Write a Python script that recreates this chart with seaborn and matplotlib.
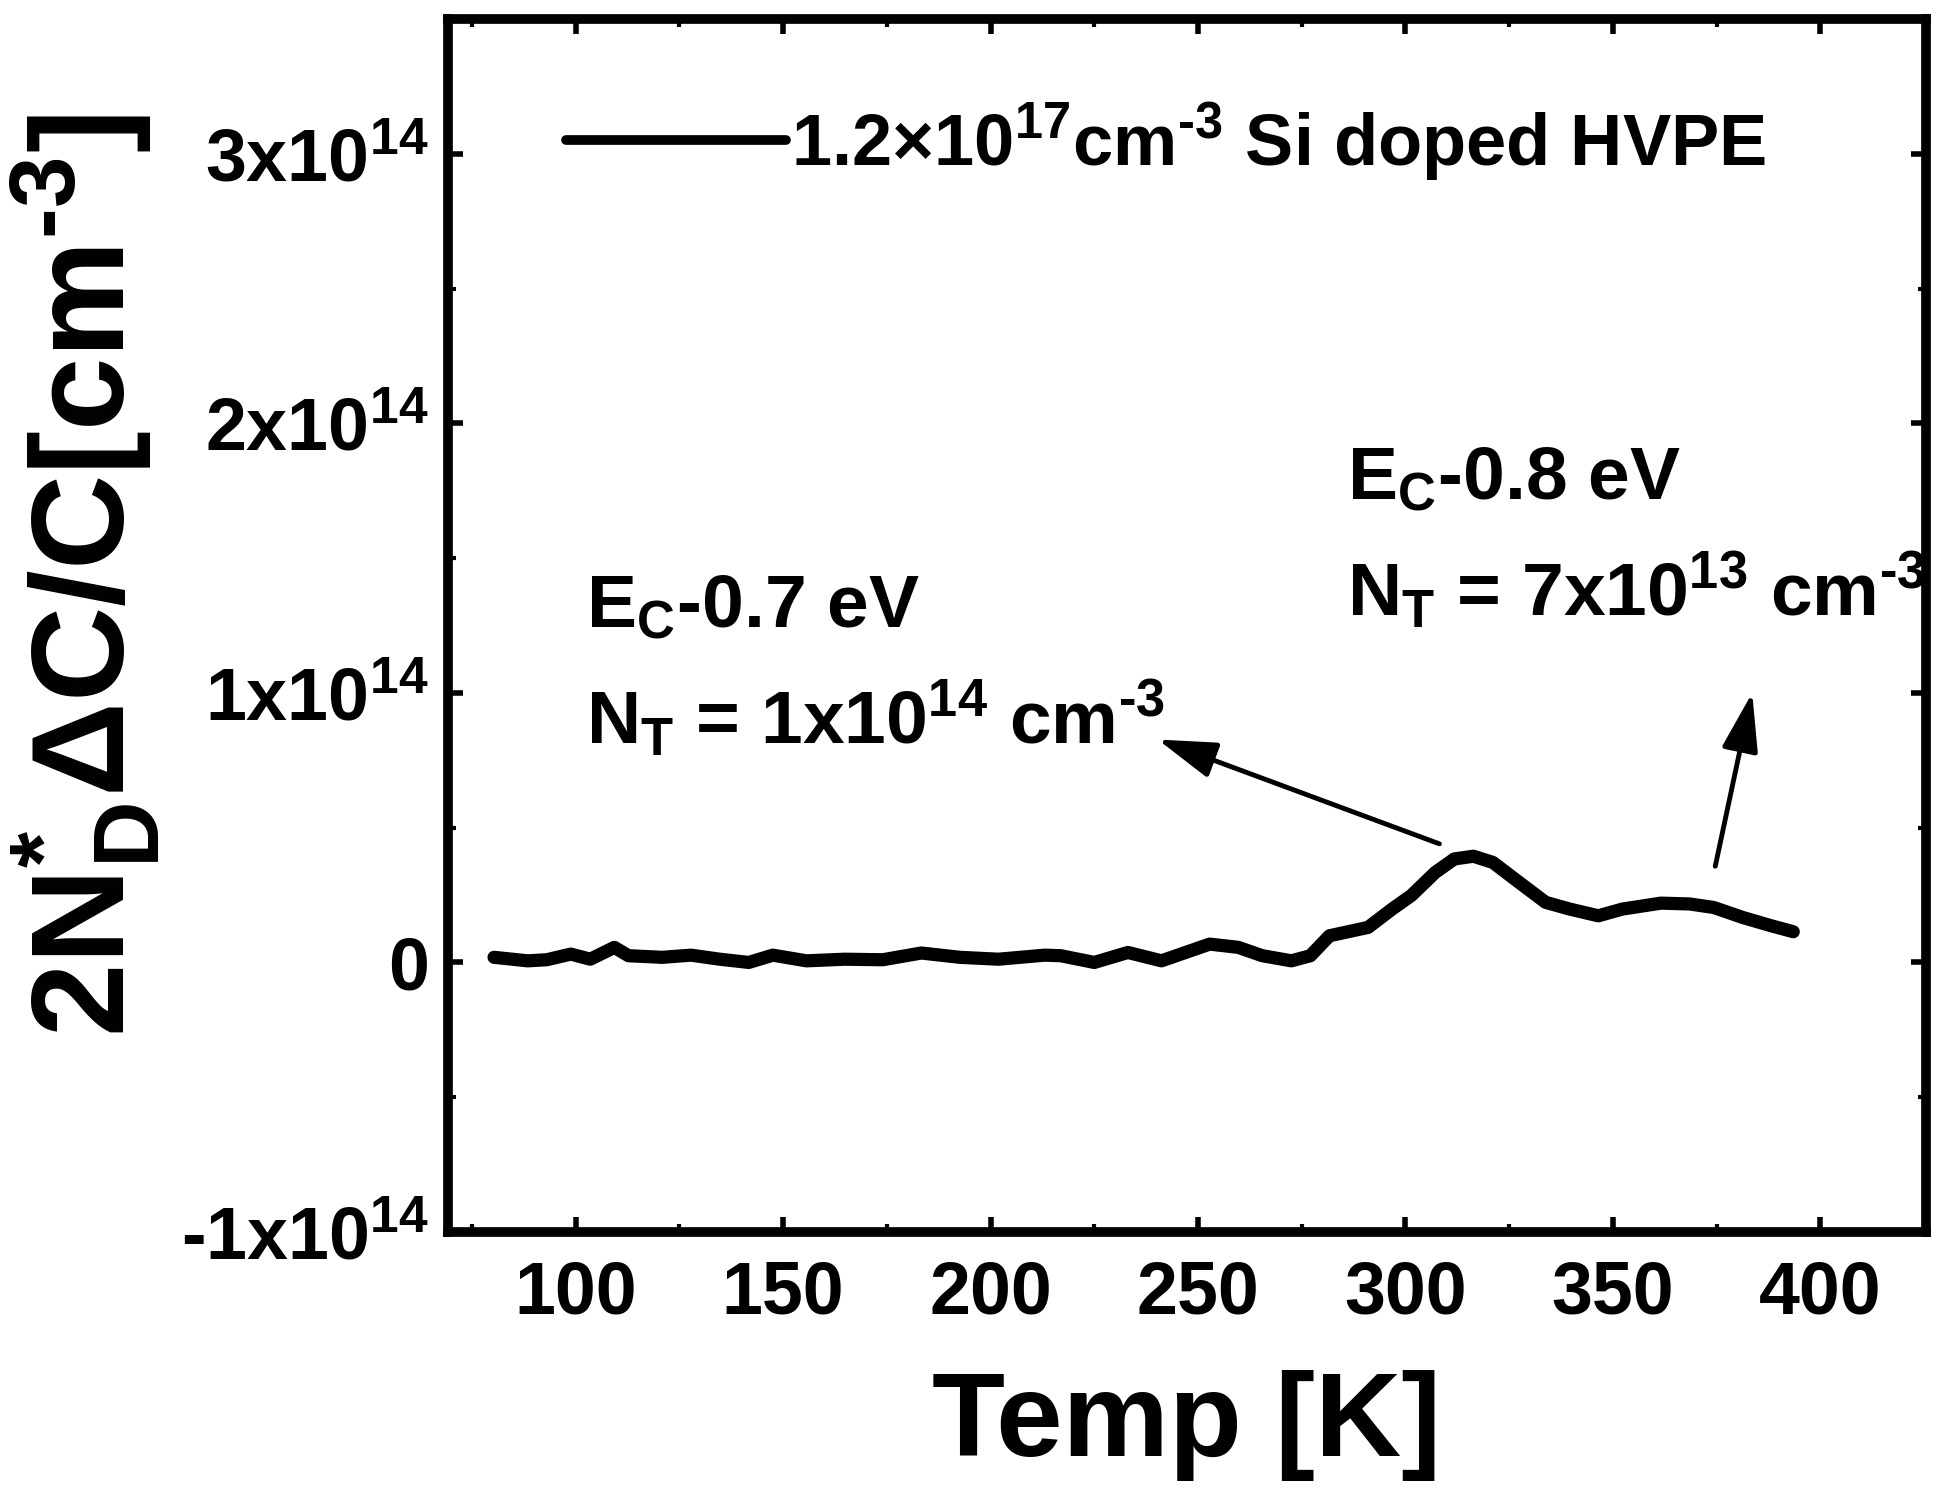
import matplotlib
matplotlib.use("Agg")
import matplotlib.pyplot as plt
from matplotlib.ticker import MultipleLocator, FixedLocator, FuncFormatter
import seaborn as sns
import pandas as pd

# ---- data ----
temp_K = [80.3, 88.4, 93.0, 98.8, 103.5, 109.3, 112.7, 120.8, 127.8, 134.7,
          141.7, 147.5, 155.6, 164.8, 174.0, 183.3, 192.6, 201.9, 213.0, 216.9,
          225.0, 233.1, 241.2, 247.0, 252.8, 259.7, 265.5, 272.5, 277.1, 281.7,
          291.0, 296.8, 301.4, 307.2, 311.8, 316.4, 321.1, 326.9, 333.8, 339.6,
          346.5, 352.3, 361.6, 368.5, 374.3, 381.3, 388.2, 393.5]
signal_e14 = [0.019, 0.006, 0.010, 0.031, 0.012, 0.056, 0.025, 0.019, 0.027, 0.012,
              0.000, 0.027, 0.006, 0.012, 0.010, 0.035, 0.019, 0.012, 0.027, 0.025,
              0.000, 0.037, 0.006, 0.037, 0.068, 0.056, 0.025, 0.006, 0.025, 0.099,
              0.130, 0.198, 0.248, 0.334, 0.384, 0.394, 0.371, 0.303, 0.223, 0.198,
              0.173, 0.198, 0.220, 0.217, 0.204, 0.167, 0.136, 0.114]
signal = [v * 1e14 for v in signal_e14]

legend_label = r"1.2×10$^{17}$cm$^{\text{-}3}$ Si doped HVPE"
x_label = "Temp [K]"
y_label = r"2N$_{D}^{*}$ΔC/C[cm$^{\text{-}3}$]"
y_major = [-1e14, 0, 1e14, 2e14, 3e14]

annot1 = [r"E$_{C}$-0.7 eV", r"N$_{T}$ = 1x10$^{14}$ cm$^{\text{-}3}$"]
annot2 = [r"E$_{C}$-0.8 eV", r"N$_{T}$ = 7x10$^{13}$ cm$^{\text{-}3}$"]

df = pd.DataFrame({"temp": temp_K, "signal": signal})

# ---- style ----
sns.set_theme(style="ticks")
plt.rcParams.update({
    "font.family": ["Liberation Sans", "DejaVu Sans"],
    "font.weight": "bold",
    "mathtext.fontset": "custom",
    "mathtext.rm": "Liberation Sans:bold",
    "mathtext.it": "Liberation Sans:bold",
    "mathtext.bf": "Liberation Sans:bold",
    "mathtext.sf": "Liberation Sans:bold",
    "axes.linewidth": 7,
    "text.color": "black",
    "axes.labelcolor": "black",
    "xtick.color": "black",
    "ytick.color": "black",
    "axes.edgecolor": "black",
})

W, H = 1942, 1488
fig = plt.figure(figsize=(W / 100, H / 100), dpi=100)
ax = fig.add_axes([448 / W, 1 - 1232 / H, 1478 / W, 1213 / H])

sns.lineplot(data=df, x="temp", y="signal", ax=ax, color="black", lw=9.5,
             label=legend_label, sort=False, estimator=None)

ax.set_xlim(69.2, 425.5)
ax.set_ylim(-1e14, 3.5e14)
ax.xaxis.set_major_locator(MultipleLocator(50))
ax.xaxis.set_minor_locator(MultipleLocator(25))
ax.yaxis.set_major_locator(FixedLocator(y_major))
ax.yaxis.set_minor_locator(MultipleLocator(0.5e14))


def yfmt(v, pos):
    n = int(round(v / 1e14))
    return "0" if n == 0 else f"{n}x10$^{{14}}$"


ax.yaxis.set_major_formatter(FuncFormatter(yfmt))

for s in ax.spines.values():
    s.set_linewidth(7)
    s.set_color("black")

ax.tick_params(which="both", direction="in", top=True, right=True, color="black")
ax.tick_params(which="major", length=11, width=4)
ax.tick_params(which="minor", length=6, width=3)
ax.tick_params(axis="x", which="major", labelsize=53, pad=20)
ax.tick_params(axis="y", which="major", labelsize=53, pad=14)
for lab in ax.get_xticklabels() + ax.get_yticklabels():
    lab.set_fontweight("bold")

ax.set_xlabel(x_label, fontsize=86, fontweight="bold")
ax.xaxis.label.set_va("baseline")
ax.xaxis.set_label_coords(0.5, -0.185)

ax.set_ylabel(y_label, fontsize=95, fontweight="bold")
ax.yaxis.label.set_va("baseline")
ax.yaxis.label.set_ha("center")
ax.yaxis.set_label_coords(-0.219, 0.541)

leg = ax.legend(loc="center left", bbox_to_anchor=(0.0798, 0.8986), frameon=False,
                fontsize=52, handlelength=3.05, handletextpad=0.06,
                borderpad=0, borderaxespad=0)
for t in leg.get_texts():
    t.set_fontweight("bold")
for l in leg.get_lines():
    l.set_linewidth(7)

# annotations
ax.text(102.5, 1.245e14, annot1[0], fontsize=54, fontweight="bold", va="baseline")
ax.text(102.5, 0.81e14, annot1[1], fontsize=54, fontweight="bold", va="baseline")
ax.text(286.0, 1.72e14, annot2[0], fontsize=54, fontweight="bold", va="baseline")
ax.text(286.0, 1.286e14, annot2[1], fontsize=54, fontweight="bold", va="baseline")

arrow_style = dict(arrowstyle="-|>,head_length=0.8,head_width=0.25", lw=3.5,
                   color="black", mutation_scale=45, shrinkA=0, shrinkB=0)
ax.annotate("", xy=(240.3, 0.827e14), xytext=(308.2, 0.44e14), arrowprops=arrow_style)
ax.annotate("", xy=(383.6, 1.0e14), xytext=(374.7, 0.357e14), arrowprops=arrow_style)

fig.savefig("out.png", dpi=100, facecolor="white")
